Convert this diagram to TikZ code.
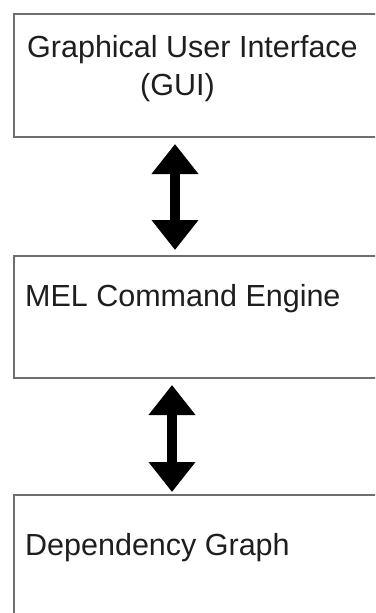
\documentclass[tikz,border=0pt]{standalone}
\usepackage{fontspec}
\setmainfont{Liberation Sans}
\usetikzlibrary{arrows.meta}
\definecolor{boxline}{HTML}{6E6E6E}
\definecolor{ink}{HTML}{1E1E1E}
\tikzset{
  layer/.style={draw=boxline, line width=2pt, fill=white, anchor=north west,
    minimum width=400pt, inner sep=0pt},
  label/.style={anchor=base west, inner sep=0pt, text=ink,
    font=\fontsize{30.5pt}{36pt}\selectfont},
  link/.style={line width=10pt, {Triangle[width=45pt,length=30pt]}-{Triangle[width=45pt,length=30pt]}}
}
\begin{document}
\begin{tikzpicture}[x=1pt,y=1pt]
  \useasboundingbox (0,0) rectangle (375,-613);
  \clip (0,0) rectangle (375,-613);
  % three stacked layers
  \node[layer, minimum height=123pt] (gui) at (13,-13) {};
  \node[layer, minimum height=122pt] (mel) at (13,-255) {};
  \node[layer, minimum height=140pt] (dg)  at (13,-494) {};
  % layer captions
  \node[label] (t1) at (27,-57) {Graphical User Interface};
  \node[label] (t2) at (140,-95) {(GUI)};
  \node[label] (t3) at (25,-306) {MEL Command Engine};
  \node[label] (t4) at (25,-555) {Dependency Graph};
  % two-way links between layers
  \draw[link] ([xshift=162pt,yshift=-6pt]gui.south west) -- ([xshift=162pt,yshift=5pt]mel.north west);
  \draw[link] ([xshift=159pt,yshift=-6pt]mel.south west) -- ([xshift=159pt,yshift=2pt]dg.north west);
\end{tikzpicture}
\end{document}
